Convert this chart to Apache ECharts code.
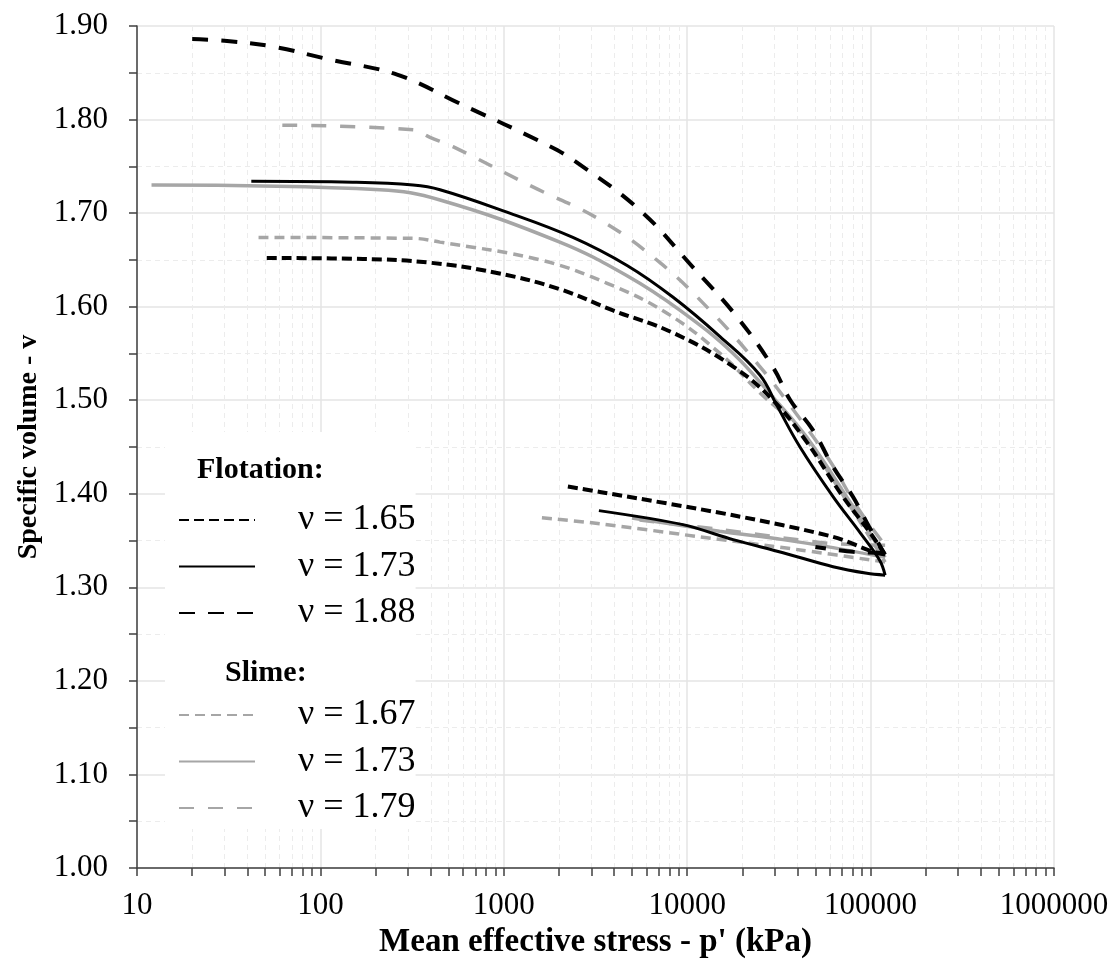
<!DOCTYPE html>
<html>
<head>
<meta charset="utf-8">
<script src="https://cdn.jsdelivr.net/npm/echarts@6/dist/echarts.min.js"></script>
<style>
html, body { margin: 0; padding: 0; background: #fff; }
#chart { width: 1118px; height: 972px; }
</style>
</head>
<body>
<div id="chart"></div>
<script>
// p' (kPa) and specific volume, loading path then unloading path
// Flotation tailings
const flot165LoadP = [51, 171, 396, 918, 2000, 3940, 8380, 17800, 29400, 45000, 70000, 98000, 120000]
const flot165LoadV = [1.652, 1.651, 1.647, 1.636, 1.619, 1.596, 1.572, 1.536, 1.500, 1.455, 1.398, 1.360, 1.335]
const flot165UnloadP = [120000, 103000, 62400, 17800, 3340, 2200]
const flot165UnloadV = [1.335, 1.338, 1.354, 1.377, 1.402, 1.408]

const flot173LoadP = [42, 150, 320, 449, 1040, 2380, 4700, 8380, 15100, 24900, 30900, 41200, 62400, 88000, 112000, 120000]
const flot173LoadV = [1.734, 1.733, 1.730, 1.725, 1.701, 1.674, 1.644, 1.610, 1.568, 1.527, 1.494, 1.450, 1.397, 1.358, 1.329, 1.313]
const flot173UnloadP = [120000, 95500, 62400, 33300, 17800, 9480, 3300]
const flot173UnloadV = [1.313, 1.315, 1.322, 1.337, 1.351, 1.367, 1.382]

const flot188LoadP = [20, 31, 55, 113, 262, 577, 1720, 2380, 5530, 10760, 18700, 29400, 36500, 48500, 62400, 80000, 98000, 118000]
const flot188LoadV = [1.886, 1.884, 1.878, 1.864, 1.848, 1.817, 1.773, 1.757, 1.703, 1.642, 1.589, 1.535, 1.500, 1.468, 1.429, 1.397, 1.365, 1.337]
const flot188UnloadP = [118000, 80000, 50000]
const flot188UnloadV = [1.337, 1.338, 1.343]

// Slime tailings
const slime167LoadP = [46, 320, 449, 1575, 3660, 7760, 15100, 24900, 40000, 70000, 120000]
const slime167LoadV = [1.674, 1.673, 1.669, 1.650, 1.625, 1.593, 1.550, 1.508, 1.470, 1.400, 1.327]
const slime167UnloadP = [120000, 41200, 11700, 3340, 1500]
const slime167UnloadV = [1.327, 1.340, 1.354, 1.368, 1.375]

const slime173LoadP = [12, 211, 449, 2020, 4700, 9150, 17800, 29400, 45000, 75000, 120000]
const slime173LoadV = [1.730, 1.725, 1.714, 1.669, 1.633, 1.596, 1.550, 1.503, 1.460, 1.395, 1.332]
const slime173UnloadP = [120000, 60000, 33300, 15000, 5000]
const slime173UnloadV = [1.332, 1.343, 1.351, 1.360, 1.374]

const slime179LoadP = [62, 320, 396, 528, 1440, 3340, 7110, 13800, 24900, 37800, 60000, 85000, 120000]
const slime179LoadV = [1.794, 1.789, 1.781, 1.771, 1.728, 1.693, 1.647, 1.593, 1.536, 1.490, 1.435, 1.385, 1.345]
const slime179UnloadP = [120000, 60000, 33000, 15000, 5500]
const slime179UnloadV = [1.345, 1.347, 1.353, 1.362, 1.372]

const yTicks = ['1.00', '1.10', '1.20', '1.30', '1.40', '1.50', '1.60', '1.70', '1.80', '1.90']

const BLACK = '#000000'
const GREY = '#a6a6a6'
const FONT = 'Liberation Serif'

const pairs = (xs, ys) => xs.map((x, i) => [x, ys[i]])

const makeSeries = (name, xs, ys, color, width, dash, smooth) => ({
  name: name,
  type: 'line',
  data: pairs(xs, ys),
  showSymbol: false,
  symbol: 'none',
  smooth: smooth,
  lineStyle: { color: color, width: width, type: dash },
  itemStyle: { color: color },
  emphasis: { disabled: true }
})

// one curve = loading + unloading, both under the same legend name
const makeCurve = (name, lp, lv, up, uv, color, width, dash) => [
  makeSeries(name, lp, lv, color, width, dash, 0.4),
  makeSeries(name, up, uv, color, width, dash, 0.3)
]

const chart = echarts.init(document.getElementById('chart'))

const legendText = {
  fontFamily: FONT,
  fontSize: 36,
  color: '#000',
  lineHeight: 38,
  padding: [0, 0, 0, 38]
}

const legendBase = {
  orient: 'vertical',
  left: 165,
  backgroundColor: '#fff',
  itemWidth: 76,
  itemHeight: 14,
  itemGap: 8.5,
  selectedMode: false,
  itemStyle: { opacity: 0, borderWidth: 0 },
  formatter: name => 'ν = ' + name.split(' ')[1],
  textStyle: legendText
}

const option = {
  backgroundColor: '#fff',
  animation: false,
  grid: { left: 137, right: 64, top: 26, bottom: 104 },
  xAxis: {
    type: 'log',
    logBase: 10,
    min: 10,
    max: 1000000,
    name: "Mean effective stress - p' (kPa)",
    nameLocation: 'middle',
    nameGap: 55,
    nameTextStyle: { fontFamily: FONT, fontSize: 33, fontWeight: 'bold', color: '#000' },
    axisLine: { lineStyle: { color: '#404040', width: 1.5 } },
    axisTick: { show: true, length: 8, inside: false, lineStyle: { color: '#404040', width: 1.5 } },
    minorTick: { show: true, splitNumber: 9, length: 8, lineStyle: { color: '#404040', width: 1.5 } },
    axisLabel: {
      fontFamily: FONT, fontSize: 31, color: '#000', margin: 22,
      formatter: v => String(Math.round(v))
    },
    splitLine: { show: true, lineStyle: { color: '#e4e4e4', width: 1.5 } },
    minorSplitLine: { show: true, lineStyle: { color: '#ececec', width: 1, type: [5, 4] } }
  },
  yAxis: {
    type: 'value',
    min: 1,
    max: 1.9,
    interval: 0.1,
    name: 'Specific volume - v',
    nameLocation: 'middle',
    nameGap: 92,
    nameTextStyle: { fontFamily: FONT, fontSize: 28, fontWeight: 'bold', color: '#000' },
    axisLine: { show: true, lineStyle: { color: '#404040', width: 1.5 } },
    axisTick: { show: true, length: 8, lineStyle: { color: '#404040', width: 1.5 } },
    minorTick: { show: true, splitNumber: 2, length: 8, lineStyle: { color: '#404040', width: 1.5 } },
    axisLabel: {
      fontFamily: FONT, fontSize: 31, color: '#000', margin: 29,
      formatter: v => yTicks[Math.round((v - 1) * 10)]
    },
    splitLine: { show: true, lineStyle: { color: '#e4e4e4', width: 1.5 } },
    minorSplitLine: { show: true, lineStyle: { color: '#ececec', width: 1, type: [5, 4] } }
  },
  legend: [
    Object.assign({}, legendBase, {
      top: 432,
      padding: [69, 0, 0, 13],
      data: ['Flotation 1.65', 'Flotation 1.73', 'Flotation 1.88']
    }),
    Object.assign({}, legendBase, {
      top: 632,
      padding: [64, 0, 2, 13],
      data: ['Slime 1.67', 'Slime 1.73', 'Slime 1.79']
    })
  ],
  graphic: [
    {
      type: 'text', left: 197, top: 455, z: 100,
      style: { text: 'Flotation:', fontFamily: FONT, fontSize: 30, fontWeight: 'bold', fill: '#000' }
    },
    {
      type: 'text', left: 225, top: 658, z: 100,
      style: { text: 'Slime:', fontFamily: FONT, fontSize: 30, fontWeight: 'bold', fill: '#000' }
    }
  ],
  series: [].concat(
    makeCurve('Slime 1.67', slime167LoadP, slime167LoadV, slime167UnloadP, slime167UnloadV, GREY, 3.5, [10, 6]),
    makeCurve('Slime 1.73', slime173LoadP, slime173LoadV, slime173UnloadP, slime173UnloadV, GREY, 3.5, 'solid'),
    makeCurve('Slime 1.79', slime179LoadP, slime179LoadV, slime179UnloadP, slime179UnloadV, GREY, 3.5, [15, 14]),
    makeCurve('Flotation 1.65', flot165LoadP, flot165LoadV, flot165UnloadP, flot165UnloadV, BLACK, 4, [10, 5]),
    makeCurve('Flotation 1.73', flot173LoadP, flot173LoadV, flot173UnloadP, flot173UnloadV, BLACK, 3, 'solid'),
    makeCurve('Flotation 1.88', flot188LoadP, flot188LoadV, flot188UnloadP, flot188UnloadV, BLACK, 4, [16, 13])
  )
}

chart.setOption(option)
window.addEventListener('resize', () => chart.resize())
</script>
</body>
</html>
